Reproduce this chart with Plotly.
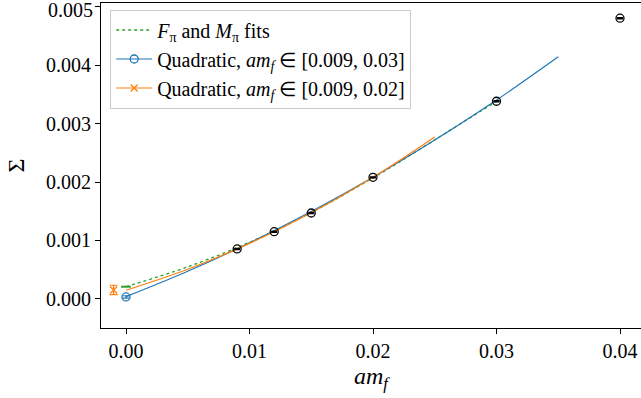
import plotly.graph_objects as go

# Data points (measured)
am_f = [0.009, 0.012, 0.015, 0.020, 0.030, 0.040]
sigma = [0.000855, 0.00115, 0.00147, 0.00208, 0.00338, 0.00480]
sigma_err = [0.00001, 0.00001, 0.00001, 0.00001, 0.00001, 0.00001]

# Quadratic fit, am_f in [0.009, 0.03]
fit_a_x = [0.0, 0.005, 0.010, 0.015, 0.020, 0.025, 0.030, 0.035]
fit_a_y = [0.00004, 0.000474, 0.000959, 0.001494, 0.00208, 0.002716, 0.0034, 0.00414]
extrap_a_x = [0.0]
extrap_a_y = [0.000035]
extrap_a_err = [0.00002]

# Quadratic fit, am_f in [0.009, 0.02]
fit_b_x = [0.0, 0.005, 0.010, 0.015, 0.020, 0.025]
fit_b_y = [0.00015, 0.000509, 0.00095, 0.001473, 0.00208, 0.00277]
extrap_b_x = [-0.001]
extrap_b_y = [0.000155]
extrap_b_err = [0.00008]

# F_pi and M_pi fits
fit_c_x = [0.0, 0.005, 0.010, 0.015, 0.020, 0.025, 0.030]
fit_c_y = [0.00021, 0.00055, 0.00097, 0.00148, 0.00207, 0.00272, 0.00338]

x_ticks = [0.0, 0.01, 0.02, 0.03, 0.04]
x_labels = ["0.00", "0.01", "0.02", "0.03", "0.04"]
y_ticks = [0.0, 0.001, 0.002, 0.003, 0.004, 0.005]
y_labels = ["0.000", "0.001", "0.002", "0.003", "0.004", "0.005"]

BLUE = "#1f77b4"
ORANGE = "#ff7f0e"
GREEN = "#2ca02c"
FONT = "Liberation Serif"

fig = go.Figure()

# F_pi and M_pi fit curve
fig.add_trace(go.Scatter(
    x=fit_c_x, y=fit_c_y, mode="lines", line=dict(color=GREEN, width=1.3, dash="3px,3px", shape="spline"),
    name="<i>F</i><sub>π</sub> and <i>M</i><sub>π</sub> fits", showlegend=True))
fig.add_trace(go.Scatter(
    x=fit_c_x[:1], y=fit_c_y[:1], mode="markers",
    marker=dict(symbol="line-ew", size=7, line=dict(color=GREEN, width=2)), showlegend=False))

# Quadratic fit A
fig.add_trace(go.Scatter(
    x=fit_a_x, y=fit_a_y, mode="lines", line=dict(color=BLUE, width=1.2, shape="spline"), showlegend=False))
fig.add_trace(go.Scatter(
    x=extrap_a_x, y=extrap_a_y, mode="lines+markers",
    line=dict(color=BLUE, width=1.2),
    marker=dict(symbol="circle-open", size=8, color=BLUE, line=dict(width=1.3)),
    error_y=dict(type="data", array=extrap_a_err, color=BLUE, width=3, thickness=1.2),
    name="Quadratic, <i>am</i><sub><i>f</i></sub> ∈ [0.009, 0.03]"))

# Quadratic fit B
fig.add_trace(go.Scatter(
    x=fit_b_x, y=fit_b_y, mode="lines", line=dict(color=ORANGE, width=1.2, shape="spline"), showlegend=False))
fig.add_trace(go.Scatter(
    x=extrap_b_x, y=extrap_b_y, mode="lines+markers",
    line=dict(color=ORANGE, width=1.2),
    marker=dict(symbol="x-thin", size=7, color=ORANGE, line=dict(width=1.3, color=ORANGE)),
    error_y=dict(type="data", array=extrap_b_err, color=ORANGE, width=4, thickness=1.2),
    name="Quadratic, <i>am</i><sub><i>f</i></sub> ∈ [0.009, 0.02]"))

# Data
fig.add_trace(go.Scatter(
    x=am_f, y=sigma, mode="markers",
    marker=dict(symbol="circle-open", size=8, color="black", line=dict(width=1.3)),
    error_y=dict(type="data", array=sigma_err, color="black", width=3, thickness=1.2),
    showlegend=False))

# top tick label, placed as a note so it stays visible at the figure's top edge
fig.add_annotation(
    x=0, xref="paper", y=y_ticks[-1], yref="y", xanchor="right", yanchor="middle",
    xshift=-6, yshift=-3, text=y_labels[-1], showarrow=False,
    font=dict(family=FONT, size=20, color="black"))

fig.update_layout(
    width=641, height=398,
    margin=dict(l=101, r=0, t=3, b=70),
    plot_bgcolor="white", paper_bgcolor="white",
    font=dict(family=FONT, size=20, color="black"),
    legend=dict(x=0.017, y=0.98, xanchor="left", yanchor="top",
                bgcolor="rgba(255,255,255,0.8)", bordercolor="#cccccc", borderwidth=1,
                font=dict(size=20), tracegroupgap=0, itemwidth=36),
)
fig.update_xaxes(
    range=[-0.002024, 0.0417], tickvals=x_ticks, ticktext=x_labels,
    showline=True, linecolor="black", linewidth=1, mirror=True,
    ticks="outside", ticklen=5, tickcolor="black", showgrid=False, zeroline=False,
    title=dict(text="<i>am</i><sub><i>f</i></sub>", standoff=6))
fig.update_yaxes(
    range=[-0.000496, 0.00506], tickvals=y_ticks, ticktext=y_labels[:-1] + [""],
    showline=True, linecolor="black", linewidth=1, mirror=False,
    ticks="outside", ticklen=5, tickcolor="black", showgrid=False, zeroline=False,
    title=dict(text="Σ", standoff=14))

fig.write_html("out.html")
